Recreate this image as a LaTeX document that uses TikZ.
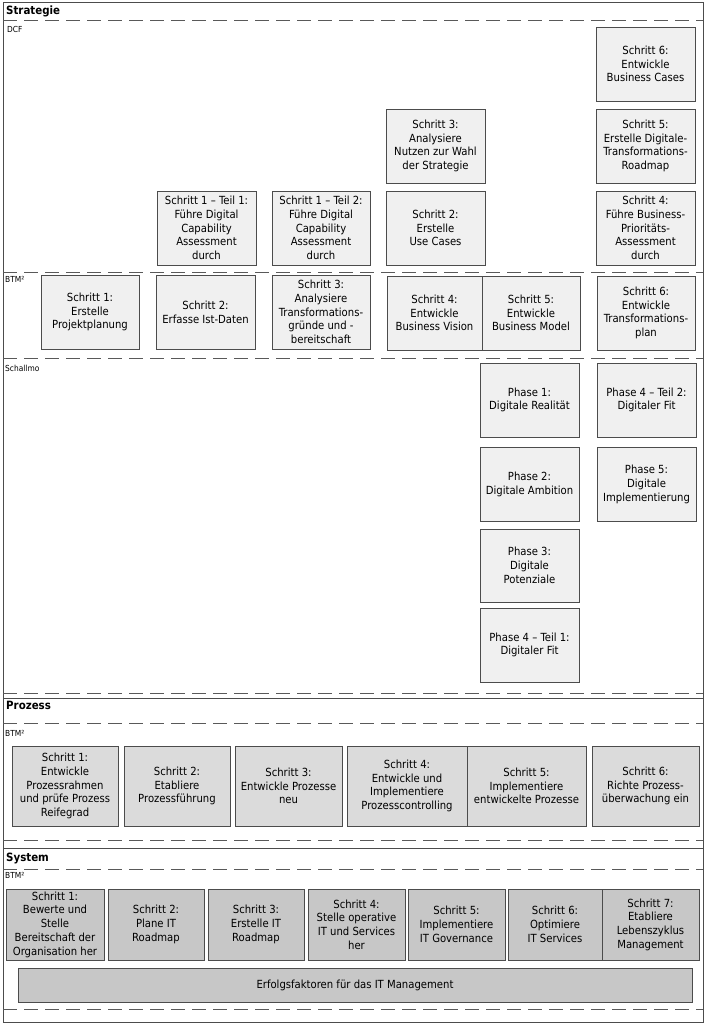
\documentclass[tikz,border=0pt]{standalone}
\usepackage{fontspec}
\setmainfont{DejaVu Sans Condensed}
\begin{document}
\begin{tikzpicture}[x=1pt,y=-1pt,
  line/.style={draw=black!70,line width=0.9pt},
  dline/.style={draw=black!65,line width=0.9pt,dash pattern=on 14pt off 7pt},
  boxbase/.style={draw=black!70,line width=0.9pt,inner sep=0pt,align=center,
     font=\fontsize{11.2}{13.7}\selectfont,minimum height=74pt},
  sbox/.style={boxbase,fill=black!6,minimum width=99pt},
  pbox/.style={boxbase,fill=black!14,minimum height=80pt},
  ybox/.style={boxbase,fill=black!22,minimum height=71pt},
  sect/.style={anchor=west,inner sep=0pt,font=\fontsize{11.4}{12}\selectfont\bfseries},
  fw/.style={anchor=west,inner sep=0pt,font=\fontsize{8.3}{9}\selectfont}]
\useasboundingbox (0,0) rectangle (706,1024);
\fill[white] (0,0) rectangle (706,1024);
% frames
\draw[line] (3,2) rectangle (703,1022);
\draw[line] (3,698) -- (703,698);
\draw[line] (3,848) -- (703,848);
% dashed separators
\foreach \yy in {20,272,358,693,723,840,869,1009}
  \draw[dline] (3,\yy) -- (703,\yy);
% section labels
\node[sect] (tstrat) at (6,11) {Strategie};
\node[fw] (tdcf) at (7,29) {DCF};
\node[fw] (tbtm1) at (5,279) {BTM²};
\node[fw] (tschal) at (5,368) {Schallmo};
\node[sect] (tproz) at (6,705) {Prozess};
\node[fw] (tbtm2) at (5,733) {BTM²};
\node[sect] (tsys) at (6,858) {System};
\node[fw] (tbtm3) at (5,875) {BTM²};
% DCF
\node[sbox] (d11) at (206.5,228) {Schritt 1 – Teil 1:\\Führe Digital\\Capability\\Assessment\\durch};
\node[sbox,minimum width=98pt] (d12) at (321,228) {Schritt 1 – Teil 2:\\Führe Digital\\Capability\\Assessment\\durch};
\node[sbox] (d3) at (435.5,146) {Schritt 3:\\Analysiere\\Nutzen zur Wahl\\der Strategie};
\node[sbox] (d2) at (435.5,228) {Schritt 2:\\Erstelle\\Use Cases};
\node[sbox] (d6) at (645.5,64) {Schritt 6:\\Entwickle\\Business Cases};
\node[sbox] (d5) at (645.5,146) {Schritt 5:\\Erstelle Digitale-\\Transformations-\\Roadmap};
\node[sbox] (d4) at (645.5,228) {Schritt 4:\\Führe Business-\\Prioritäts-\\Assessment\\durch};
% BTM2 strategy
\node[sbox,minimum width=98pt] (b1) at (90,312) {Schritt 1:\\Erstelle\\Projektplanung};
\node[sbox] (b2) at (205.5,312) {Schritt 2:\\Erfasse Ist-Daten};
\node[sbox,minimum width=98pt] (b3) at (321,312) {Schritt 3:\\Analysiere\\Transformations-\\gründe und -\\bereitschaft};
\node[sbox,minimum width=95pt] (b4) at (434.5,313) {Schritt 4:\\Entwickle\\Business Vision};
\node[sbox,minimum width=98pt] (b5) at (531,313) {Schritt 5:\\Entwickle\\Business Model};
\node[sbox,minimum width=98pt] (b6) at (646,313) {Schritt 6:\\Entwickle\\Transformations-\\plan};
% Schallmo
\node[sbox] (p1) at (529.5,400) {Phase 1:\\Digitale Realität};
\node[sbox] (p42) at (646.5,400) {Phase 4 – Teil 2:\\Digitaler Fit};
\node[sbox] (p2) at (529.5,484.5) {Phase 2:\\Digitale Ambition};
\node[sbox] (p5) at (646.5,484.5) {Phase 5:\\Digitale\\Implementierung};
\node[sbox,minimum height=73pt] (p3) at (529.5,565.5) {Phase 3:\\Digitale\\Potenziale};
\node[sbox] (p41) at (529.5,645) {Phase 4 – Teil 1:\\Digitaler Fit};
% Prozess
\node[pbox,minimum width=106pt] (r1) at (65,786) {Schritt 1:\\Entwickle\\Prozessrahmen\\und prüfe Prozess\\Reifegrad};
\node[pbox,minimum width=106pt] (r2) at (177,786) {Schritt 2:\\Etabliere\\Prozessführung};
\node[pbox,minimum width=107pt] (r3) at (288.5,786) {Schritt 3:\\Entwickle Prozesse\\neu};
\node[pbox,minimum width=120pt] (r4) at (407,786) {Schritt 4:\\Entwickle und\\Implementiere\\Prozesscontrolling};
\node[pbox,minimum width=119pt] (r5) at (526.5,786) {Schritt 5:\\Implementiere\\entwickelte Prozesse};
\node[pbox,minimum width=107pt] (r6) at (645.5,786) {Schritt 6:\\Richte Prozess-\\überwachung ein};
% System
\node[ybox,minimum width=98pt] (s1) at (55,924.5) {Schritt 1:\\Bewerte und\\Stelle\\Bereitschaft der\\Organisation her};
\node[ybox,minimum width=96pt] (s2) at (156,924.5) {Schritt 2:\\Plane IT\\Roadmap};
\node[ybox,minimum width=96pt] (s3) at (256,924.5) {Schritt 3:\\Erstelle IT\\Roadmap};
\node[ybox,minimum width=97pt] (s4) at (356.5,924.5) {Schritt 4:\\Stelle operative\\IT und Services\\her};
\node[ybox,minimum width=97pt] (s5) at (456.5,924.5) {Schritt 5:\\Implementiere\\IT Governance};
\node[ybox,minimum width=94pt] (s6) at (555,924.5) {Schritt 6:\\Optimiere\\IT Services};
\node[ybox,minimum width=97pt] (s7) at (650.5,924.5) {Schritt 7:\\Etabliere\\Lebenszyklus\\Management};
\node[ybox,minimum width=674pt,minimum height=34pt] (erf) at (355,985) {Erfolgsfaktoren für das IT Management};
\end{tikzpicture}
\end{document}
